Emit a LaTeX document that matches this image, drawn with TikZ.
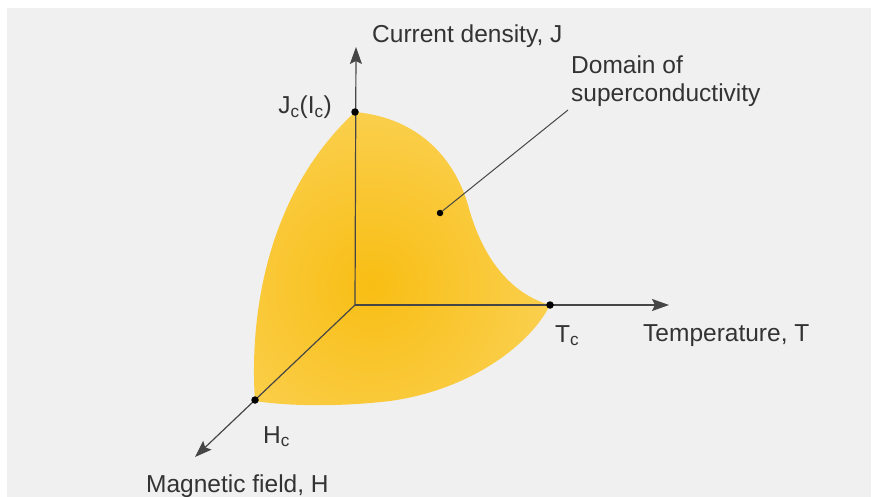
\documentclass[tikz,border=0pt]{standalone}
\usepackage{fontspec}
\setmainfont{Liberation Sans}
\usetikzlibrary{arrows.meta}

\definecolor{bggray}{RGB}{240,240,240}
\definecolor{axisgray}{RGB}{70,70,70}
\definecolor{coreyellow}{RGB}{249,190,20}
\definecolor{rimyellow}{RGB}{251,226,140}

\begin{document}
\begin{tikzpicture}[
    x=1pt, y=-1pt,
    dot/.style={circle, fill=black, inner sep=0pt, minimum size=7.5pt},
    axis/.style={draw=axisgray, line width=1.2pt, -{Stealth[length=17pt, width=12pt, inset=3pt]}},
    every node/.style={font=\fontsize{24.5}{28}\selectfont, text=black!80, inner sep=0pt}
  ]
  \useasboundingbox (0,0) rectangle (872,497);
  \fill[white] (0,0) rectangle (872,497);
  \fill[bggray] (7,8) rectangle (871,497);

  % --- Domain of superconductivity ---
  \begin{scope}
    \clip (355,112) .. controls (420,118) and (455,160) .. (468,205)
      .. controls (480,250) and (505,292) .. (550,305)
      .. controls (530,345) and (470,390) .. (390,401)
      .. controls (330,408) and (280,405) .. (255,401)
      .. controls (250,330) and (260,200) .. (355,112) -- cycle;
    \shade[inner color=coreyellow, outer color=rimyellow] (372,285) circle (370);
  \end{scope}

  % --- Axes ---
  \coordinate (O) at (355,305);
  \coordinate (Jend) at (356,47);
  \coordinate (Tend) at (669,305);
  \coordinate (Hend) at (195,457);

  \draw[axis] (O) -- (Jend);
  \draw[axis] (O) -- (Tend);
  \draw[axis] (O) -- (Hend);

  % critical points
  \node[dot] (Jc) at (355,112) {};
  \node[dot] (Tc) at (550,305) {};
  \node[dot] (Hc) at (255,400) {};

  % leader to the domain
  \node[dot, minimum size=6.5pt] (dom) at (440,213) {};
  \coordinate (lead) at (568,110);
  \draw[axisgray, line width=1pt] (dom) -- (lead);

  % --- Labels ---
  \node[anchor=base west] (Jlab) at (372,43) {Current density, J};
  \node[anchor=base east] (Jclab) at (332,114) {J\textsubscript{c}(I\textsubscript{c})};
  \node[anchor=base west, align=left] (domlab) at (571,102) {Domain of\\superconductivity};
  \node[anchor=base west] (Tclab) at (555,342) {T\textsubscript{c}};
  \node[anchor=base west] (Tlab) at (643,341) {Temperature, T};
  \node[anchor=base west] (Hclab) at (263,443) {H\textsubscript{c}};
  \node[anchor=base west] (Hlab) at (146,492) {Magnetic field, H};
\end{tikzpicture}
\end{document}
